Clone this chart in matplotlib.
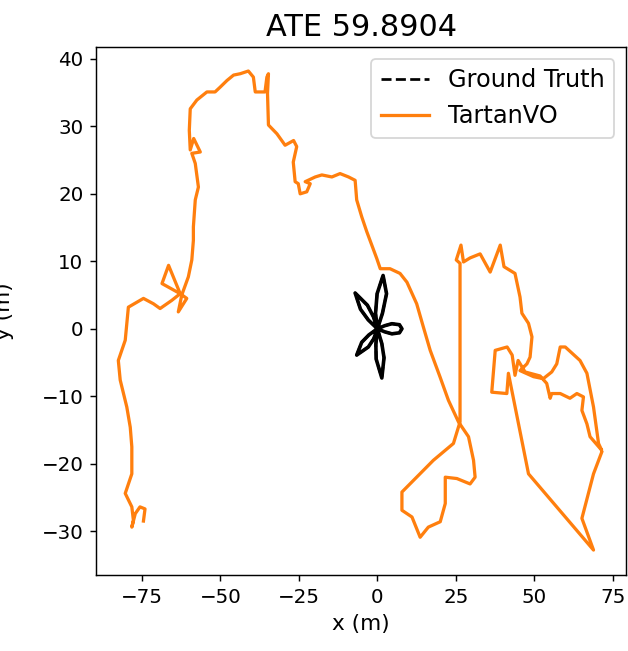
import numpy as np
import matplotlib
matplotlib.use('Agg')
import matplotlib.pyplot as plt

# title / labels
title = 'ATE 59.8904'
gt_label = 'Ground Truth'
est_label = 'TartanVO'

# ground truth trajectory (flower shape around the origin)
gt_x = [0, 1.6, 2.9, 1.8, -0.1, -0.6, 0,
        -1.3, -3.2, -7.1, -5.4, -2.9, 0,
        -1.2, -2.9, -6.6, -5.0, -2.7, 0,
        -0.5, -0.4, 1.4, 2.1, 1.4, 0,
        2.3, 4.6, 7.0, 7.8, 7.0, 4.6, 2.3, 0]
gt_y = [0, 2.3, 5.2, 7.9, 5.2, 2.3, 0,
        1.8, 3.5, 5.3, 2.9, 1.3, 0,
        -1.5, -2.7, -3.9, -2.0, -0.9, 0,
        -2.3, -4.5, -7.3, -4.3, -2.2, 0,
        0.45, 0.75, 0.6, 0.0, -0.6, -0.75, -0.45, 0]

# estimated trajectory (TartanVO)
est_x = [-74.5, -74.0, -75.6, -77.1, -78.2, -77.7, -78.2, -80.3, -78.2, -78.2,
         -78.7, -79.8, -81.9, -82.5, -80.3, -79.3, -78.2, -74.5, -71.3, -69.2,
         -65.5, -62.8, -66.5, -68.6, -62.8, -60.7, -63.4, -62.3, -61.2, -60.2,
         -59.1, -58.6, -58.6, -58.0, -57.0, -58.0, -59.1, -56.4, -58.5, -59.6,
         -59.9, -59.6, -57.5, -54.3, -51.7, -50.1, -47.9, -45.8, -43.7, -41.1,
         -39.5, -38.9, -35.8, -35.2, -34.7, -35.0, -34.7, -32.0, -29.4, -26.7,
         -25.7, -26.8, -26.2, -25.2, -24.6, -22.5, -21.4, -23.0, -19.8, -17.7,
         -14.5, -11.9, -9.2, -7.1, -6.6, -5.0, -3.4, -1.8, -0.2, 0.9,
         4.0, 7.2, 9.4, 12.5, 14.6, 16.8, 19.9, 22.6, 25.8, 29.0,
         30.6, 31.1, 29.5, 25.3, 21.6, 21.6, 20.0, 16.2, 13.6, 11.0,
         7.8, 7.8, 17.8, 24.2, 26.3, 26.3, 26.3, 26.3, 25.1, 26.6,
         27.4, 29.5, 32.7, 35.9, 39.1, 40.3, 43.8, 45.4, 46.0, 48.1,
         49.2, 48.6, 47.6, 45.4, 49.7, 52.8, 55.5, 57.1, 58.2, 59.8,
         64.5, 66.7, 68.8, 70.4, 71.4, 67.7, 66.7, 65.1, 65.6, 63.5,
         61.3, 58.2, 55.5, 55.0, 53.9, 51.8, 47.0, 44.8, 43.8, 42.9,
         41.3, 37.5, 36.4, 41.2, 41.7, 48.1, 68.8, 65.1, 68.8, 71.4]
est_y = [-28.5, -26.7, -26.4, -27.4, -29.4, -28.4, -26.4, -24.4, -21.5, -17.5,
         -14.6, -11.6, -7.6, -4.7, -1.7, 3.2, 3.5, 4.5, 3.7, 3.0,
         4.2, 5.2, 9.4, 6.7, 5.2, 4.5, 2.5, 5.0, 6.4, 7.7,
         10.2, 13.1, 15.1, 19.1, 21.0, 24.5, 26.0, 26.2, 28.2, 26.5,
         29.4, 32.6, 33.9, 35.1, 35.1, 35.8, 36.8, 37.6, 37.8, 38.2,
         37.3, 35.1, 35.1, 37.3, 37.8, 34.9, 30.2, 28.9, 27.2, 27.9,
         27.0, 24.7, 21.8, 21.5, 20.0, 20.3, 21.5, 21.8, 22.5, 22.8,
         22.5, 23.0, 22.5, 22.0, 19.1, 16.6, 14.4, 12.4, 10.4, 8.9,
         8.9, 8.2, 6.9, 3.7, 0.3, -3.2, -7.1, -10.6, -13.8, -16.0,
         -19.5, -22.0, -23.0, -22.2, -22.0, -25.9, -28.6, -29.4, -30.9, -27.9,
         -26.9, -24.2, -19.5, -17.0, -13.8, -7.6, 4.2, 9.7, 10.2, 12.4,
         9.9, 10.5, 11.1, 8.4, 12.4, 9.2, 8.2, 4.7, 2.3, 0.8,
         -1.2, -4.2, -5.2, -6.2, -7.1, -7.4, -6.4, -5.2, -2.7, -2.7,
         -4.7, -6.6, -11.6, -17.0, -18.0, -16.0, -14.1, -12.1, -10.1, -9.6,
         -10.3, -9.6, -9.6, -10.3, -8.1, -7.0, -6.4, -4.7, -6.9, -3.9,
         -2.7, -3.2, -9.4, -9.6, -6.6, -21.5, -32.8, -28.1, -21.5, -18.3]

fig = plt.figure(figsize=(628 / 130, 651 / 130), dpi=130)
ax = fig.add_axes([0.1529, 0.1167, 0.8447, 0.8115])

# solid underlay makes the repeated gt passes look filled like the original
ax.plot(gt_x, gt_y, '-', color='k', linewidth=2.0)
ax.plot(gt_x, gt_y, '--', color='k', linewidth=1.5, label=gt_label)
ax.plot(est_x, est_y, '-', color='#ff7f0e', linewidth=1.8, label=est_label)

ax.set_xlim(-89.6, 79.3)
ax.set_ylim(-36.5, 41.8)
ax.set_xticks([-75, -50, -25, 0, 25, 50, 75])
ax.set_yticks([-30, -20, -10, 0, 10, 20, 30, 40])
ax.tick_params(labelsize=11)

ax.set_xlabel('x (m)', fontsize=12)
ax.set_ylabel('y (m)', fontsize=12)
ax.yaxis.set_label_coords(-0.155, 0.5)
ax.set_title(title, fontsize=16.8)
ax.legend(loc='upper right', fontsize=13.3)

plt.savefig('out.png', dpi=130)
plt.close(fig)
